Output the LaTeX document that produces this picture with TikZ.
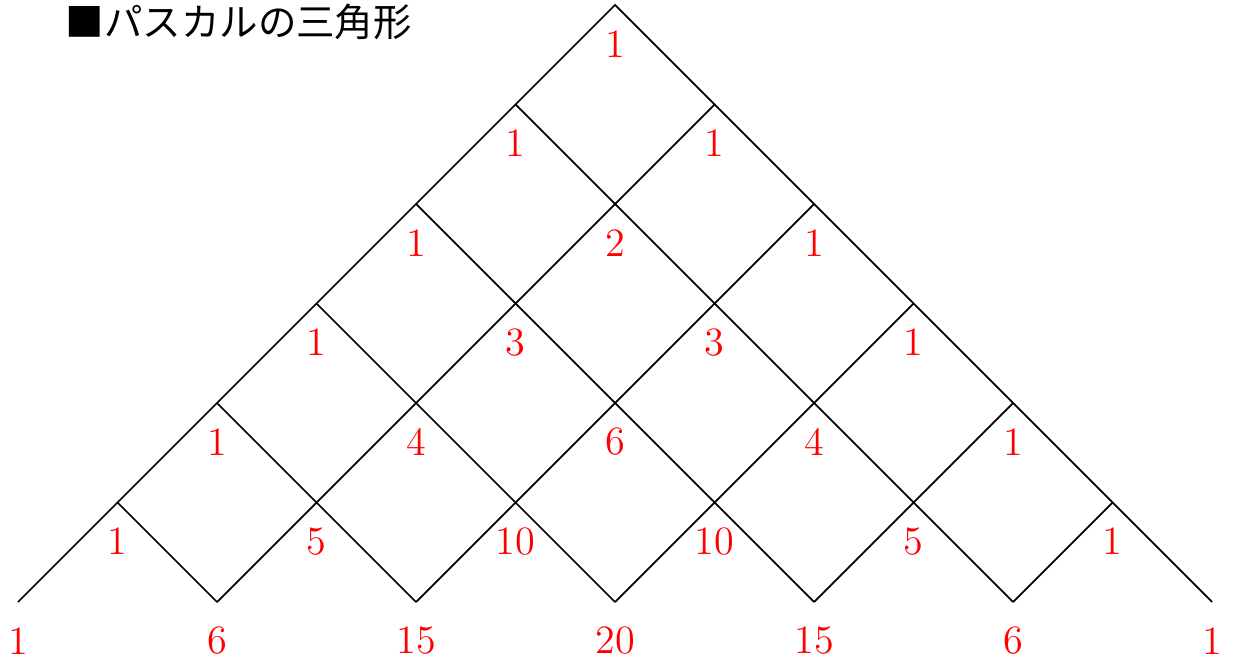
\documentclass[tikz,border=0pt]{standalone}
\usepackage{fontspec}
\newfontfamily\cjk{Noto Sans CJK JP}
\begin{document}
\begin{tikzpicture}[
  edge/.style={black, line width=0.5pt},
  num/.style={red, inner sep=0pt, font=\fontsize{11.5}{14}\selectfont},
  title/.style={anchor=west, inner sep=0pt, font=\cjk\fontsize{11}{13}\selectfont}
]
\useasboundingbox (-6.181,-6.623) rectangle (6.271,0.050);
% lattice points
\foreach \k in {0,...,6}{
  \foreach \j in {0,...,\k}{
    \coordinate (p-\k-\j) at ({2*\j-\k},{-\k});
  }
}
% outer edges
\draw[edge] (p-6-0) -- (p-0-0) -- (p-6-6);
% interior lines
\foreach \k in {1,...,5}{
  \pgfmathtruncatemacro\m{6-\k}
  \draw[edge] (p-\k-0) -- (p-6-\m);
  \draw[edge] (p-\k-\k) -- (p-6-\k);
}
% numbers
\foreach \k in {0,...,6}{
  \foreach \j in {0,...,\k}{
    \pgfmathtruncatemacro\v{round(factorial(\k)/(factorial(\j)*factorial(\k-\j)))}
    \node[num] (n-\k-\j) at ([yshift=-0.39cm]p-\k-\j) {\v};
  }
}
\node[title] (t) at (-5.528,-0.171) {■パスカルの三角形};
\end{tikzpicture}
\end{document}
